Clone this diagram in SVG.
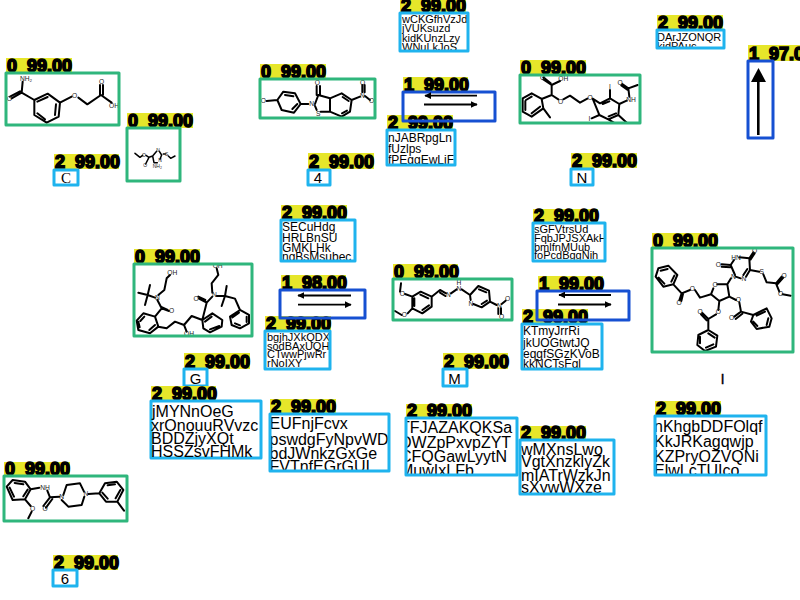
<svg xmlns="http://www.w3.org/2000/svg" width="800" height="600" viewBox="0 0 800 600">
<style>
text{font-family:"Liberation Sans",Arial,sans-serif;fill:#000}
.l{fill:#e6e62a}
.t{font-size:18px;font-weight:bold;stroke:#000;stroke-width:1.6px;white-space:pre;transform:translateY(1px)}
.g,.b,.d{fill:none;stroke-width:3;stroke-linejoin:round}
.g{stroke:#2fb67c}.b{stroke:#1fb3ee}.d{stroke:#1650d2}
.m{fill:none;stroke:#000;stroke-width:6;stroke-linejoin:round;stroke-linecap:round}
.a{font-size:20px;text-anchor:middle;fill:#222}
.arr{fill:none;stroke:#000;stroke-width:1.8}
.x11{font-size:11px}.x12{font-size:12px}.x16{font-size:16px}.x15{font-size:15px;text-anchor:middle}
</style>
<defs>
<marker id="ah" viewBox="0 0 10 10" refX="9" refY="5" markerWidth="7" markerHeight="7" markerUnits="userSpaceOnUse" orient="auto-start-reverse"><path d="M0 0L10 5L0 10z" fill="#000"/></marker>
<clipPath id="c1"><rect x="6" y="73" width="113" height="52"/></clipPath>
<clipPath id="c2"><rect x="260" y="79" width="115" height="39"/></clipPath>
<clipPath id="c3"><rect x="520" y="75" width="120" height="48"/></clipPath>
<clipPath id="c4"><rect x="134" y="264" width="118" height="72"/></clipPath>
<clipPath id="c5"><rect x="393" y="279" width="119" height="41"/></clipPath>
<clipPath id="c6"><rect x="652" y="248" width="141" height="104"/></clipPath>
<clipPath id="c7"><rect x="4" y="476" width="123" height="45"/></clipPath>
<clipPath id="t1"><rect x="400" y="13" width="68" height="37"/></clipPath>
<clipPath id="t2"><rect x="387" y="130" width="68" height="34"/></clipPath>
<clipPath id="t3"><rect x="657" y="30" width="67" height="17"/></clipPath>
<clipPath id="t4"><rect x="281" y="220" width="74" height="41"/></clipPath>
<clipPath id="t5"><rect x="265" y="331" width="65" height="37"/></clipPath>
<clipPath id="t6"><rect x="533" y="223" width="72" height="37"/></clipPath>
<clipPath id="t7"><rect x="522" y="324" width="80" height="44"/></clipPath>
<clipPath id="t8"><rect x="150" y="401" width="110" height="56"/></clipPath>
<clipPath id="t9"><rect x="270" y="414" width="118" height="56"/></clipPath>
<clipPath id="t10"><rect x="406" y="418" width="110" height="59"/></clipPath>
<clipPath id="t11"><rect x="520" y="440" width="93" height="54"/></clipPath>
<clipPath id="t12"><rect x="655" y="416" width="110" height="59"/></clipPath>
</defs>

<g id="mol-1">
<rect class="l" x="6" y="58" width="66" height="15"/><text class="t" x="7" y="71">0  99.00</text>
<g clip-path="url(#c1)"><g transform="translate(0,50) scale(.3333)">
<path class="m" d="M103 150L143 131L180 158L176 200L140 218L103 195Z M112 155L143 141 M168 163L165 195 M135 208L112 190 M103 150L65 128L35 145 M60 124L30 140 M65 128L68 95 M180 158L215 140 M235 143L262 163L303 135L335 158 M300 135L300 105 M309 135L309 105"/>
<text class="a" x="78" y="92">NH₂</text><text class="a" x="28" y="152">O</text><text class="a" x="224" y="144">O</text><text class="a" x="305" y="103">O</text><text class="a" x="342" y="173">OH</text>
</g></g>
<rect class="g" x="6" y="73" width="113" height="52"/>
</g>

<g id="mol-2">
<rect class="l" x="127" y="113" width="66" height="15"/><text class="t" x="128" y="126">0  99.00</text>
<g transform="translate(0,50) scale(.3333)">
<path class="m" style="stroke-width:4.500" d="M405 310L420 322L428 316 M438 316L447 322L458 318L470 304 M478 304L485 315L480 328 M472 338L462 338L458 318 M490 312L497 312 M505 318L512 325L525 318 M447 322L437 342"/>
<text class="a" style="font-size:15px" x="432" y="320">O</text><text class="a" style="font-size:15px" x="436" y="350">O</text><text class="a" style="font-size:15px" x="474" y="306">N</text><text class="a" style="font-size:15px" x="480" y="337">N</text><text class="a" style="font-size:15px" x="500" y="318">S</text><text class="a" style="font-size:15px" x="472" y="355">NH₂</text>
</g>
<rect class="g" x="127" y="128" width="53" height="53"/>
</g>

<g id="text-c">
<rect class="l" x="54" y="154" width="65" height="15"/><text class="t" x="55" y="167">2  99.00</text>
<rect class="b" x="54" y="170" width="24" height="15"/>
<text class="x15" x="66" y="183" style="font-family:'Liberation Serif',serif">C</text>
</g>

<g id="mol-3">
<rect class="l" x="260" y="64" width="66" height="15"/><text class="t" x="261" y="77">0  99.00</text>
<g clip-path="url(#c2)"><g transform="translate(250,0) scale(.3333)">
<path class="m" d="M82 300L100 275L135 280L152 312L132 338L95 330Z M105 285L130 289 M142 312L127 327 M82 300L50 303 M152 312L175 312 M195 312L205 285L240 295L240 335L212 335 M195 318L200 330 M200 285L200 258 M210 285L210 258 M240 295L275 280L305 300L300 335L275 350L240 335 M278 291L296 303 M291 332L276 340 M305 300L330 290 M345 288L360 300 M337 277L337 255 M344 277L344 255"/>
<text class="a" x="40" y="308">O</text><text class="a" x="185" y="319">N</text><text class="a" x="205" y="347">S</text><text class="a" x="202" y="256">O</text><text class="a" x="337" y="294">N</text><text class="a" x="338" y="256">O</text><text class="a" x="365" y="310">O</text>
</g></g>
<rect class="g" x="260" y="79" width="115" height="39"/>
</g>

<g id="text-w">
<rect class="l" x="400" y="0" width="66" height="13"/><text class="t" x="401" y="11">2  99.00</text>
<g clip-path="url(#t1)" class="x11"><text x="402" y="23">wCKGfhVzJd</text><text x="402" y="32">jVUKsuzd</text><text x="402" y="42">kidKUnzLzy</text><text x="402" y="51">WNuLkJoS</text></g>
<rect class="b" x="400" y="13" width="68" height="38"/>
</g>

<g id="text-n">
<rect class="l" x="387" y="115" width="66" height="15"/><text class="t" x="388" y="128">2  99.00</text>
<g clip-path="url(#t2)" class="x12"><text x="388" y="142">nJABRpgLn</text><text x="388" y="153">fUzlps</text><text x="388" y="164">fPEggEwLiF</text></g>
<rect class="b" x="387" y="130" width="68" height="35"/>
</g>

<g id="rxn-1">
<rect class="l" x="403" y="77" width="65" height="15"/><text class="t" x="404" y="90">1  99.00</text>
<rect class="d" x="403" y="92" width="92" height="29"/>
<path class="arr" d="M477 95.7H425" marker-end="url(#ah)"/><path class="arr" d="M424 104.5H477" marker-end="url(#ah)"/>
</g>

<g id="text-4">
<rect class="l" x="308" y="153" width="66" height="16"/><text class="t" x="309" y="167">2  99.00</text>
<rect class="b" x="308" y="170" width="22" height="15"/>
<text class="x15" x="318" y="183">4</text>
</g>

<g id="text-d">
<rect class="l" x="657" y="15" width="66" height="15"/><text class="t" x="658" y="28">2  99.00</text>
<g clip-path="url(#t3)" class="x11"><text x="657" y="41">DArJZONQR</text><text x="657" y="50">kidPAuc</text></g>
<rect class="b" x="657" y="30" width="67" height="18"/>
</g>

<g id="rxn-2">
<rect class="l" x="748" y="45" width="52" height="16"/><text class="t" x="749" y="59">1  97.00</text>
<rect class="d" x="748" y="61" width="25" height="77"/>
<path d="M758.3 135V80" fill="none" stroke="#000" stroke-width="2.6"/><path d="M758.5 68L766 82H751Z" fill="#000"/>
</g>

<g id="mol-4">
<rect class="l" x="520" y="60" width="66" height="15"/><text class="t" x="521" y="73">0  99.00</text>
<g clip-path="url(#c3)"><g transform="translate(510,0) scale(.3333)">
<path class="m" d="M38 295L65 280L95 297L100 325L65 350L38 335Z M48 300L65 290 M90 320L65 340 M46 330L46 303 M100 325L120 352 M95 297L125 285L125 255L100 238 M125 255L150 243 M122 250L100 232 M125 285L145 298 M160 298L180 287L210 308L232 296 M248 296L270 310L300 295L328 312L325 345L295 358L268 345Z M278 312L298 304 M318 340L296 349 M300 295L300 270 M268 345L245 355 M325 345L352 370 M328 312L350 302 M358 290L355 265L383 255 M355 265L337 252 M352 269L334 256 M295 358L315 370"/>
<text class="a" x="160" y="243">OH</text><text class="a" x="98" y="241">O</text><text class="a" x="152" y="311">O</text><text class="a" x="240" y="299">O</text><text class="a" x="300" y="268">I</text><text class="a" x="238" y="364">I</text><text class="a" x="363" y="305">NH</text><text class="a" x="330" y="254">O</text>
</g></g>
<rect class="g" x="520" y="75" width="120" height="48"/>
</g>

<g id="text-upper-n">
<rect class="l" x="571" y="153" width="66" height="15"/><text class="t" x="572" y="166">2  99.00</text>
<rect class="b" x="571" y="169" width="22" height="16"/>
<text class="x15" x="582" y="183">N</text>
</g>

<g id="mol-5">
<rect class="l" x="134" y="249" width="66" height="15"/><text class="t" x="135" y="262">0  99.00</text>
<g clip-path="url(#c4)"><g transform="translate(125,200) scale(.3333)">
<path class="m" d="M35 362L55 340L90 350L100 380L75 400L40 390Z M46 363L58 350 M90 375L73 390 M44 382L40 365 M90 350L110 325L132 333 M107 320L128 330 M110 325L97 300 M90 293L68 285L40 278 M68 285L60 315 M68 285L75 255 M100 285L118 270L125 235L135 225 M100 380L125 385L150 365L177 375L200 348L232 360 M177 375L185 395 M232 360L262 340L292 360L290 380L255 397L235 385Z M240 365L260 350 M283 378L255 388 M232 360L245 308L222 296 M241 300L220 290 M245 308L262 290 M262 278L260 250L280 225L275 205 M275 288L300 288L330 296L345 330 M300 288L305 258 M300 288L290 318 M345 330L372 345L372 370L345 385L320 375L315 350Z M365 350L365 366 M330 370L345 376 M322 352L342 338"/>
<text class="a" x="142" y="226">OH</text><text class="a" x="140" y="340">O</text><text class="a" x="97" y="300">N</text><text class="a" x="213" y="302">O</text><text class="a" x="268" y="290">N</text><text class="a" x="278" y="205">OH</text><text class="a" x="192" y="408">OH</text>
</g></g>
<rect class="g" x="134" y="264" width="118" height="72"/>
</g>

<g id="text-s">
<rect class="l" x="281" y="205" width="66" height="15"/><text class="t" x="282" y="218">2  99.00</text>
<g clip-path="url(#t4)" class="x12"><text x="282" y="231">SECuHdg</text><text x="282" y="242">HRLBnSU</text><text x="282" y="252">GMKLHk</text><text x="282" y="261">ngBsMsubec</text></g>
<rect class="b" x="281" y="220" width="74" height="41"/>
</g>

<g id="text-b">
<rect class="l" x="265" y="316" width="66" height="15"/><text class="t" x="266" y="329">2  99.00</text>
<g clip-path="url(#t5)" class="x11"><text x="267" y="341">bgjhJXkQDX</text><text x="267" y="350">sodBAxUQH</text><text x="267" y="358">CTwwPjwRr</text><text x="267" y="367">rNoIXY</text></g>
<rect class="b" x="265" y="331" width="65" height="38"/>
</g>

<g id="rxn-3">
<rect class="l" x="281" y="275" width="65" height="15"/><text class="t" x="282" y="288">1  98.00</text>
<rect class="d" x="280" y="290" width="85" height="28"/>
<path class="arr" d="M351 295.5H298" marker-end="url(#ah)"/><path class="arr" d="M298 304.7H351" marker-end="url(#ah)"/>
</g>

<g id="text-g">
<rect class="l" x="184" y="353" width="66" height="16"/><text class="t" x="185" y="367">2  99.00</text>
<rect class="b" x="184" y="369" width="23" height="17"/>
<text class="x15" x="195.500" y="383.500">G</text>
</g>

<g id="mol-6">
<rect class="l" x="393" y="264" width="65" height="15"/><text class="t" x="394" y="277">0  99.00</text>
<g clip-path="url(#c5)"><g transform="translate(385,200) scale(.3333)">
<path class="m" d="M82 290L107 275L140 290L140 320L112 340L82 325Z M106 284L130 295 M132 316L112 330 M88 318L88 295 M82 290L60 282 M45 275L48 250 M82 325L68 340 M50 345L30 333 M140 290L165 270L183 280 M165 278L181 288 M198 280L215 268 M230 268L255 285L280 258L312 272L315 305L290 322L265 312 M282 268L304 277 M306 302L290 312 M255 285L257 300 M315 305L335 315 M350 312L362 302 M348 325L348 342 M340 325L340 342"/>
<text class="a" x="52" y="287">O</text><text class="a" x="58" y="352">O</text><text class="a" x="190" y="290">N</text><text class="a" x="222" y="272">N</text><text class="a" x="222" y="254">H</text><text class="a" x="258" y="317">N</text><text class="a" x="343" y="325">N</text><text class="a" x="368" y="304">O</text><text class="a" x="350" y="356">O</text>
</g></g>
<rect class="g" x="393" y="279" width="119" height="41"/>
</g>

<g id="text-sg">
<rect class="l" x="533" y="209" width="65" height="14"/><text class="t" x="534" y="221">2  99.00</text>
<g clip-path="url(#t6)" class="x11"><text x="534" y="233">sGFVtrsUd</text><text x="534" y="242">FqbJPJSXAkH</text><text x="534" y="251">bmlfnMUub</text><text x="534" y="259">foPcdBggNih</text></g>
<rect class="b" x="533" y="223" width="72" height="38"/>
</g>

<g id="text-k">
<rect class="l" x="522" y="309" width="66" height="15"/><text class="t" x="523" y="322">2  99.00</text>
<g clip-path="url(#t7)" class="x12"><text x="523" y="335">KTmyJrrRi</text><text x="523" y="347">jkUOGtwtJQ</text><text x="523" y="358">eqgfSGzKVoB</text><text x="523" y="368">kkNCTsFgl</text></g>
<rect class="b" x="522" y="324" width="80" height="45"/>
</g>

<g id="rxn-4">
<rect class="l" x="538" y="276" width="65" height="15"/><text class="t" x="539" y="289">1  99.00</text>
<rect class="d" x="537" y="291" width="92" height="29"/>
<path class="arr" d="M611 295H559" marker-end="url(#ah)"/><path class="arr" d="M558 304.500H611" marker-end="url(#ah)"/>
</g>

<g id="text-m">
<rect class="l" x="443" y="353" width="65" height="16"/><text class="t" x="444" y="367">2  99.00</text>
<rect class="b" x="443" y="369" width="24" height="17"/>
<text class="x15" x="454.500" y="383.500">M</text>
</g>

<g id="mol-7">
<rect class="l" x="652" y="233" width="66" height="15"/><text class="t" x="653" y="246">0  99.00</text>
<g clip-path="url(#c6)"><g transform="translate(640,225) scale(.3333)">
<path class="m" d="M47 155L55 130L85 122L112 150L100 178L70 185Z M62 137L83 132 M103 152L94 170 M73 176L56 158 M100 178L125 205L118 226 M129 207L124 228 M125 205L150 195 M165 195L180 218L213 208L220 190 M232 178L262 178L268 215L238 228L213 208 M262 178L273 160 M287 155L302 160 M285 150L272 120L282 105 M298 97L328 100L330 135L318 155 M322 132L310 150 M272 120L245 118 M272 127L245 125 M328 100L340 82 M332 103L344 85 M330 135L358 140 M370 148L380 172L408 175L425 155 M412 178L430 158 M408 175L418 200 M428 208L452 212 M268 215L288 225 M298 232L303 260L283 275 M307 266L287 282 M303 260L340 270L380 250L395 280L388 305L350 312L333 290L340 270 M350 272L375 260 M385 280L380 300 M352 303L340 290 M238 228L235 255 M228 268L205 282L187 264 M200 286L183 268 M205 282L205 315L175 330L172 360L195 378L228 365L232 332L205 315 M180 335L180 355 M198 368L220 358 M224 338L205 325"/>
<text class="a" x="225" y="186">O</text><text class="a" x="280" y="161">N</text><text class="a" x="312" y="167">N</text><text class="a" x="288" y="104">HN</text><text class="a" x="235" y="125">O</text><text class="a" x="344" y="84">O</text><text class="a" x="365" y="147">S</text><text class="a" x="432" y="158">O</text><text class="a" x="422" y="214">O</text><text class="a" x="157" y="199">O</text><text class="a" x="117" y="239">O</text><text class="a" x="295" y="232">O</text><text class="a" x="275" y="286">O</text><text class="a" x="235" y="268">O</text><text class="a" x="180" y="266">O</text>
</g></g>
<rect class="g" x="652" y="248" width="141" height="104"/>
</g>

<g id="text-i"><text class="x15" x="722.500" y="384" style="stroke:#000;stroke-width:.3px">I</text></g>

<g id="mol-8">
<rect class="l" x="4" y="462" width="66" height="14"/><text class="t" x="5" y="474">0  99.00</text>
<g clip-path="url(#c7)"><g transform="translate(0,380) scale(.3333)">
<path class="m" d="M20 320L38 300L75 305L92 328L75 358L38 360Z M44 309L70 313 M83 329L70 349 M42 350L29 323 M92 328L118 323 M142 332L150 352L178 350 M150 352L130 378 M157 357L138 383 M190 345L200 315L240 310L252 335 M265 342L298 340 M185 360L205 380L245 375L253 350 M298 340L315 310L350 305L370 330L352 365L318 365Z M323 316L345 313 M361 330L347 355 M323 356L307 338 M352 365L372 392 M75 358L92 378 M95 395L85 415"/>
<text class="a" x="135" y="330">NH</text><text class="a" x="135" y="393">O</text><text class="a" x="185" y="356">N</text><text class="a" x="258" y="349">N</text><text class="a" x="98" y="394">O</text>
</g></g>
<rect class="g" x="4" y="476" width="123" height="45"/>
</g>

<g id="text-j">
<rect class="l" x="151" y="386" width="65" height="15"/><text class="t" x="152" y="399">2  99.00</text>
<rect class="b" x="151" y="401" width="110" height="57"/>
<g clip-path="url(#t8)" class="x16"><text x="152" y="417">jMYNnOeG</text><text x="151" y="431">xrOnouuRVvzc</text><text x="151" y="444">BDDZjyXQt</text><text x="151" y="457">HSSZsvFHMk</text></g>
</g>

<g id="text-e">
<rect class="l" x="270" y="399" width="66" height="15"/><text class="t" x="271" y="412">2  99.00</text>
<g clip-path="url(#t9)" class="x16"><text x="269.500" y="429">EUFnjFcvx</text><text x="269.500" y="445">pswdgFyNpvWD</text><text x="269.500" y="459">bdJWnkzGxGe</text><text x="269.500" y="472">FVTnfEGrGUI</text></g>
<rect class="b" x="270" y="414" width="119" height="57"/>
</g>

<g id="text-t">
<rect class="l" x="406" y="404" width="66" height="14"/><text class="t" x="407" y="416">2  99.00</text>
<g clip-path="url(#t10)" class="x16"><text x="400" y="433">TFJAZAKQKSa</text><text x="400" y="448">DWZpPxvpZYT</text><text x="400" y="462">CFQGawLyytN</text><text x="400" y="476">MuwIxLFb</text></g>
<rect class="b" x="406" y="418" width="111" height="57"/>
</g>

<g id="text-wm">
<rect class="l" x="520" y="426" width="66" height="14"/><text class="t" x="521" y="438">2  99.00</text>
<g clip-path="url(#t11)" class="x16"><text x="521" y="455">wMXnsLwo</text><text x="521" y="467">VgtXnzklyZk</text><text x="521" y="481">mIATrWzkJn</text><text x="521" y="493">sXywWXze</text></g>
<rect class="b" x="520" y="440" width="94" height="54"/>
</g>

<g id="text-nk">
<rect class="l" x="655" y="401" width="66" height="15"/><text class="t" x="656" y="414">2  99.00</text>
<g clip-path="url(#t12)" class="x16"><text x="654" y="432">nKhgbDDFOlqf</text><text x="654" y="447">KkJRKagqwjp</text><text x="654" y="462">KZPryOZVQNi</text><text x="654" y="476">ElwLcTUIco</text></g>
<rect class="b" x="655" y="416" width="111" height="59"/>
</g>

<g id="text-6">
<rect class="l" x="53" y="555" width="65" height="15"/><text class="t" x="54" y="568">2  99.00</text>
<rect class="b" x="53" y="570" width="24" height="16"/>
<text class="x15" x="65" y="584">6</text>
</g>
</svg>
